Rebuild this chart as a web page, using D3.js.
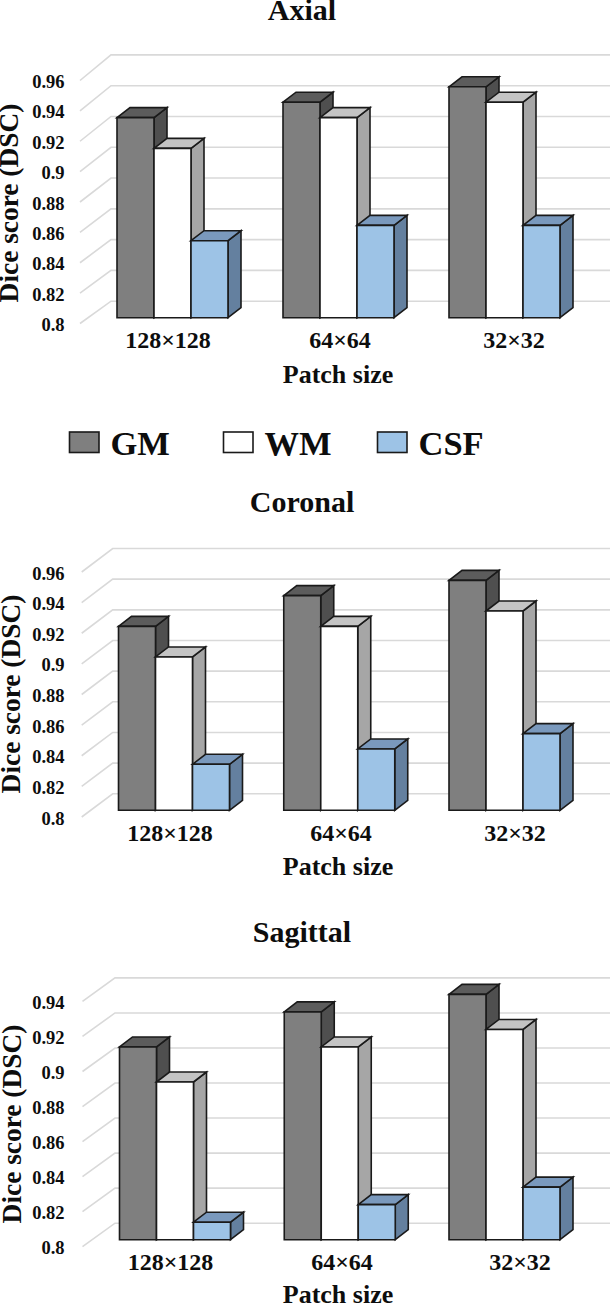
<!DOCTYPE html>
<html><head><meta charset="utf-8">
<script src="https://cdn.jsdelivr.net/npm/d3@7/dist/d3.min.js"></script>
<style>html,body{margin:0;padding:0;background:#fff}svg{display:block}text{font-family:"Liberation Serif",serif;font-weight:bold;fill:#0d0d0d}</style>
</head><body><svg id="c" width="611" height="1304"></svg>
<script>
const categories = ["128×128","64×64","32×32"];
const seriesNames = ["GM","WM","CSF"];
const axialGM = [0.93,0.94,0.95], axialWM = [0.91,0.93,0.94], axialCSF = [0.85,0.86,0.86];
const coronalGM = [0.92,0.94,0.95], coronalWM = [0.90,0.92,0.93], coronalCSF = [0.83,0.84,0.85];
const sagittalGM = [0.91,0.93,0.94], sagittalWM = [0.89,0.91,0.92], sagittalCSF = [0.81,0.82,0.83];
const ticksTo96 = [0.8,0.82,0.84,0.86,0.88,0.9,0.92,0.94,0.96];
const ticksTo94 = [0.8,0.82,0.84,0.86,0.88,0.9,0.92,0.94];
const fmtTick = d => String(+d.toFixed(2));
const colors = {GM:["#7f7f7f","#4f4f4f","#5c5c5c"],WM:["#ffffff","#a6a6a6","#c4c4c4"],CSF:["#9dc3e6","#64809f","#7a99bd"]};
const panels = [
 {title:"Axial",titleY:20,vals:[axialGM,axialWM,axialCSF],ticks:ticksTo96,y0:317.7,yTop:71.4,wall0:323.5,wallTop:80.5,dTop:0.96,x0:117,x1:560,wallX:80,backX:111,labelXs:[168,340,514],labelY:348,patchY:383,ytitleY:203,ytitleX:18},
 {title:"Coronal",titleY:512,vals:[coronalGM,coronalWM,coronalCSF],ticks:ticksTo96,y0:810.3,yTop:565,wall0:817,wallTop:572,dTop:0.96,x0:118.5,x1:560,wallX:81.7,backX:112.7,labelXs:[170,341,515],labelY:841,patchY:875,ytitleY:694,ytitleX:20},
 {title:"Sagittal",titleY:942,vals:[sagittalGM,sagittalWM,sagittalCSF],ticks:ticksTo94,y0:1239.7,yTop:994.4,wall0:1246.7,wallTop:1001.4,dTop:0.94,x0:119.5,x1:560,wallX:82.5,backX:115,labelXs:[170.5,342,520],labelY:1270,patchY:1303,ytitleY:1124,ytitleX:20.5}
];
const depthX = 13, depthY = 10, wallDY = 16.5, gridEnd = 610;
const svg = d3.select("#c");
const line = d3.line();
panels.forEach(p=>{
  const g = svg.append("g");
  const y = d3.scaleLinear().domain([0.8,p.dTop]).range([p.y0,p.yTop]);
  const wy = d3.scaleLinear().domain([0.8,p.dTop]).range([p.wall0,p.wallTop]);
  const x = d3.scaleBand().domain(categories).range([p.x0,p.x1]).paddingInner(1-111/((p.x1-p.x0-111)/2));
  const xs = d3.scaleBand().domain(seriesNames).range([0,x.bandwidth()]);
  const lx = d3.scaleOrdinal().domain(categories).range(p.labelXs);
  p.ticks.forEach(t=>{
    const yy=y(t);
    g.append("path").attr("d",line([[p.wallX,wy(t)],[p.backX,yy-wallDY],[gridEnd,yy-wallDY]]))
     .attr("fill","none").attr("stroke","#d9d9d9").attr("stroke-width",1.6);
    g.append("text").attr("x",64.5).attr("y",wy(t)+1.5).attr("dy","0.33em").attr("text-anchor","end").attr("font-size",18.5).text(fmtTick(t));
  });
  categories.forEach((c,ci)=>{
    seriesNames.forEach((s,si)=>{
      const v=p.vals[si][ci];
      const L=x(c)+xs(s), R=L+xs.bandwidth(), T=y(v), B=y(0.8);
      const col=colors[s];
      const st={stroke:"#1a1a1a","stroke-width":1.6,"stroke-linejoin":"miter"};
      const draw=(pts,f)=>{const e=g.append("path").attr("d",line(pts)+"Z").attr("fill",f);Object.entries(st).forEach(([k,w])=>e.attr(k,w));};
      draw([[R,T],[R+depthX,T-depthY],[R+depthX,B-depthY],[R,B]],col[1]);
      draw([[L,T],[L+depthX,T-depthY],[R+depthX,T-depthY],[R,T]],col[2]);
      draw([[L,T],[R,T],[R,B],[L,B]],col[0]);
    });
    g.append("text").attr("x",lx(c)).attr("y",p.labelY).attr("text-anchor","middle").attr("font-size",24).text(c);
  });
  g.append("text").attr("x",302).attr("y",p.titleY).attr("text-anchor","middle").attr("font-size",30).text(p.title);
  g.append("text").attr("x",338).attr("y",p.patchY).attr("text-anchor","middle").attr("font-size",26).text("Patch size");
  g.append("text").attr("transform",`translate(${p.ytitleX},${p.ytitleY}) rotate(-90)`).attr("text-anchor","middle").attr("font-size",27.4).text("Dice score (DSC)");
});
const legendX = d3.scaleOrdinal().domain(seriesNames).range([69.5,223.5,377.5]);
seriesNames.forEach(s=>{
  svg.append("rect").attr("x",legendX(s)).attr("y",432).attr("width",29.5).attr("height",20.5).attr("fill",colors[s][0]).attr("stroke","#1a1a1a").attr("stroke-width",1.6);
  svg.append("text").attr("x",legendX(s)+41).attr("y",443.5).attr("dy","0.33em").attr("font-size",34.5).text(s);
});
</script></body></html>
